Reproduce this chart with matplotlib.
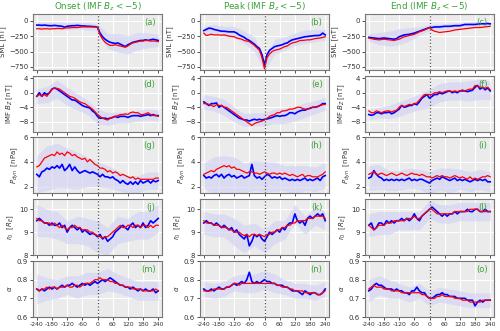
import matplotlib
matplotlib.use("Agg")
import matplotlib.pyplot as plt
import numpy as np

# time axis in minutes relative to the event (10 min step)
t = np.arange(-240, 241, 10)
t_band = t[::4]

col_titles = ["Onset (IMF $B_z<-5$)", "Peak (IMF $B_z<-5$)", "End (IMF $B_z<-5$)"]
row_labels = ["SML [nT]", "IMF $B_Z$ [nT]", "$P_{dyn}$  [nPa]", "$r_0$  [$R_E$]", r"$\alpha$"]
panel_tags = ["(a)", "(b)", "(c)", "(d)", "(e)", "(f)", "(g)", "(h)", "(i)",
              "(j)", "(k)", "(l)", "(m)", "(n)", "(o)"]
xticks = [-240, -180, -120, -60, 0, 60, 120, 180, 240]

# ---- SML
sml_onset_blue = [-70, -70, -75, -70, -75, -80, -80, -75, -80, -85, -90, -105, -90, -85, -80, -80, -75, -80,
                  -85, -85, -90, -90, -95, -95, -105, -200, -260, -300, -330, -350, -360, -370, -360, -380,
                  -400, -420, -390, -370, -350, -340, -330, -320, -320, -310, -320, -310, -300, -310, -320]
sml_onset_red = [-130, -130, -135, -130, -130, -135, -130, -130, -125, -125, -130, -120, -115, -115, -110,
                 -110, -110, -105, -100, -100, -100, -100, -100, -100, -110, -230, -300, -350, -380, -400,
                 -400, -390, -400, -410, -420, -430, -410, -380, -360, -350, -340, -330, -330, -320, -320,
                 -330, -330, -330, -340]
sml_peak_blue = [-160, -140, -120, -125, -140, -150, -160, -170, -170, -175, -180, -180, -180, -200, -230,
                 -250, -270, -300, -320, -350, -380, -420, -450, -550, -720, -550, -480, -450, -420, -410,
                 -400, -390, -370, -360, -330, -310, -300, -290, -280, -270, -260, -255, -250, -245, -240,
                 -240, -235, -200, -230]
sml_peak_red = [-200, -240, -230, -220, -230, -230, -230, -235, -230, -240, -250, -255, -260, -280, -290,
                -300, -320, -330, -340, -370, -400, -440, -480, -600, -780, -600, -540, -500, -480, -470,
                -460, -440, -420, -410, -380, -360, -350, -340, -320, -320, -315, -310, -310, -300, -290,
                -285, -280, -270, -260]
sml_end_blue = [-270, -275, -280, -285, -290, -285, -280, -285, -290, -295, -300, -290, -260, -245, -230,
                -225, -220, -210, -200, -185, -170, -155, -140, -125, -110, -110, -100, -100, -100, -95,
                -90, -90, -90, -85, -80, -80, -80, -70, -60, -60, -60, -60, -60, -55, -50, -50, -50, -45, -50]
sml_end_red = [-280, -290, -300, -305, -310, -305, -300, -305, -310, -315, -320, -310, -300, -280, -260,
               -250, -240, -230, -220, -200, -180, -165, -150, -130, -110, -150, -170, -180, -190, -185,
               -180, -175, -170, -160, -150, -145, -140, -135, -130, -125, -120, -115, -110, -110, -110,
               -105, -100, -95, -90]

# ---- IMF Bz
bz_onset_blue = [-1, 0, -1, 0, -0.5, 0, 1, 1.3, 1, 0.5, 0, -0.5, -1, -1.5, -2, -2, -2.5, -3, -3.5, -3.8,
                 -4, -4.2, -5, -5.5, -6.5, -7, -7, -7, -7.2, -7, -6.8, -6.5, -6.8, -6.5, -6.5, -6.5, -6.8,
                 -6.5, -6.3, -6.3, -6.3, -6.5, -6.3, -6.2, -6, -6.3, -6, -6.3, -6.3]
bz_onset_red = [-1, -0.5, -1, -0.5, -1, 0, 1, 1.3, 1.2, 1, 0.5, 0, -0.5, -1, -1.2, -1.5, -2, -2.5, -2.8,
                -3, -3.5, -4, -4.5, -5.2, -6, -6.5, -7, -7.3, -7.5, -7, -6.8, -6.5, -6.3, -6, -6, -5.8, -6,
                -5.5, -5.3, -5.5, -5.5, -6, -6, -5.8, -5.5, -6, -6.3, -6.2, -6.5]
bz_peak_blue = [-2.5, -3, -3.5, -3, -3, -2.8, -4, -3.5, -4, -4.5, -5, -5.5, -6, -6.5, -7, -7.2, -7.5, -7.5,
                -7.8, -7.5, -7.3, -7.5, -7.3, -7.5, -7.3, -7.2, -7, -6.8, -6.5, -6.3, -6.5, -6.3, -6.3, -6,
                -5.5, -5.5, -5.8, -5.3, -5, -4.8, -4.8, -4.5, -4.3, -4, -4, -3.8, -3.5, -3, -3]
bz_peak_red = [-3, -3, -3.2, -3.5, -3.8, -3.3, -3.5, -3.5, -4, -4, -4.5, -5, -5.5, -6, -6.5, -7, -7.5, -8,
               -8.5, -9, -8.5, -8.2, -8, -7.8, -7.5, -7, -6.5, -6.2, -6, -5.5, -5.5, -5, -5, -4.8, -4.5,
               -4.5, -4.3, -4, -4, -4.3, -4.5, -4.5, -4.2, -4, -4, -3.8, -3.5, -3.3, -3.2]
bz_end_blue = [-6, -6.2, -6, -5.5, -5.5, -5.8, -5.5, -5.5, -5.3, -5.8, -5.5, -5, -4.5, -3.5, -4, -3.8, -3.5,
               -3.5, -3, -3.3, -2.5, -1.5, -1, -0.5, -1.5, -1, -0.5, -0.5, 0, -0.3, 0, 0.3, 0.5, 0, 0.3,
               0, 0.5, 0.5, 0.5, 0.3, 0.5, 0.7, 1.5, 2, 1, 1.5, 0.8, 1.3, 0.5]
bz_end_red = [-5, -5.5, -5.5, -5, -5.2, -5.5, -5.2, -5, -5, -5.3, -5, -4.8, -4, -3.5, -3.8, -3.5, -3.2,
              -3.3, -3, -2.8, -2, -1.2, -0.5, -0.5, -0.5, -0.5, 0, 0, 0.3, 0, 0.3, 0.5, 0.5, 0.3, 0.5, 0.3,
              0.5, 0.8, 0.5, 0.8, 1, 1, 2, 1.8, 1.5, 1.5, 1.2, 1.5, 0.8]

# ---- Pdyn
pd_onset_blue = [3, 2.8, 3.2, 3.3, 3.5, 3.4, 3.6, 3.5, 3.7, 3.5, 3.8, 3.3, 3.5, 3.8, 3.3, 3.6, 3.3, 3.1,
                 3.2, 3.3, 3.2, 3.1, 3.2, 3.1, 3, 2.8, 3, 2.8, 2.8, 2.7, 2.8, 2.6, 2.5, 2.3, 2.5, 2.3, 2.2,
                 2.4, 2.2, 2.4, 2.2, 2.5, 2.3, 2.4, 2.5, 2.3, 2.5, 2.4, 2.5]
pd_onset_red = [3.6, 3.7, 4, 4.3, 4.4, 4.5, 4.6, 4.5, 4.8, 4.6, 4.7, 4.5, 4.8, 4.7, 4.5, 4.6, 4.4, 4.3, 4.2,
                4.3, 4, 4.2, 4, 3.8, 3.7, 3.5, 3.5, 3.4, 3.2, 3.3, 3.1, 3.2, 3.1, 2.9, 3, 2.9, 2.8, 2.7, 2.8,
                2.6, 2.7, 2.6, 2.6, 2.6, 2.6, 2.6, 2.6, 2.7, 2.7]
pd_peak_blue = [2.9, 2.7, 2.8, 2.7, 2.9, 3, 2.8, 3, 2.7, 2.9, 3, 2.8, 2.9, 2.7, 2.8, 2.9, 2.7, 2.8, 2.9,
                3.8, 2.9, 2.7, 2.8, 2.6, 2.8, 3, 2.9, 2.7, 2.8, 2.7, 2.8, 2.6, 2.7, 2.6, 2.5, 2.6, 2.5, 2.6,
                2.5, 2.6, 2.7, 2.5, 2.6, 2.5, 2.6, 2.7, 2.5, 2.8, 2.9]
pd_peak_red = [3, 3.1, 3.2, 3.3, 3.2, 3.4, 3.5, 3.6, 3.7, 3.6, 3.7, 3.5, 3.6, 3.4, 3.4, 3.3, 3.2, 3.1, 3.2,
               3.2, 3.1, 3.1, 3, 3.1, 3.2, 3.1, 3, 3.1, 3.1, 3, 3.1, 3, 3.1, 3, 2.9, 3, 2.9, 2.8, 2.9, 3,
               2.8, 2.9, 2.9, 2.8, 2.8, 2.8, 2.9, 3, 3.2]
pd_end_blue = [2.7, 2.8, 3.3, 3, 2.8, 2.7, 2.5, 2.6, 2.5, 2.6, 2.5, 2.6, 2.5, 2.6, 2.5, 2.6, 2.7, 2.5, 2.6,
               2.5, 2.6, 2.6, 2.5, 2.4, 2.3, 2.5, 2.6, 2.7, 2.6, 2.8, 2.7, 2.6, 2.5, 2.6, 2.7, 2.5, 2.6,
               2.5, 2.6, 2.5, 2.4, 2.5, 2.6, 2.5, 2.6, 2.5, 2.6, 2.4, 2.4]
pd_end_red = [3, 3.1, 3.2, 3, 3, 3.1, 3, 2.9, 3, 3.1, 3, 2.9, 3, 3.1, 3, 2.9, 3, 3.1, 3, 3, 2.9, 3, 2.9,
              2.8, 2.8, 2.7, 2.8, 2.9, 2.8, 2.9, 2.8, 2.8, 2.7, 2.8, 2.9, 2.8, 2.7, 2.8, 2.7, 2.6, 2.8,
              2.6, 2.7, 2.6, 2.7, 2.8, 2.8, 2.9, 2.8]

# ---- r0
r0_onset_blue = [9.5, 9.6, 9.5, 9.4, 9.4, 9.3, 9.4, 9.3, 9.3, 9.4, 9.2, 9.3, 9.0, 9.2, 9.3, 9.2, 9.1, 9.2,
                 9.0, 9.1, 9.0, 8.9, 8.95, 8.9, 8.8, 8.9, 8.7, 8.8, 8.6, 8.7, 8.8, 9.0, 9.1, 9.2, 9.3, 9.2,
                 9.1, 9.3, 9.4, 9.2, 9.3, 9.2, 9.4, 9.2, 9.3, 9.5, 9.4, 9.5, 9.6]
r0_onset_red = [9.6, 9.5, 9.5, 9.4, 9.4, 9.4, 9.3, 9.4, 9.3, 9.2, 9.3, 9.2, 9.1, 9.2, 9.2, 9.3, 9.2, 9.2,
                9.1, 9.1, 9.1, 9.0, 9.0, 8.9, 8.85, 8.8, 8.75, 8.8, 8.8, 8.9, 9.0, 9.1, 9.2, 9.3, 9.2, 9.2,
                9.3, 9.3, 9.2, 9.3, 9.3, 9.2, 9.3, 9.3, 9.2, 9.3, 9.2, 9.3, 9.3]
r0_peak_blue = [9.4, 9.5, 9.4, 9.4, 9.3, 9.4, 9.3, 9.2, 9.3, 9.2, 9.1, 9.2, 9.0, 9.1, 8.9, 8.8, 8.7, 8.9,
                8.4, 8.6, 8.9, 8.8, 8.9, 8.7, 8.6, 8.8, 9.0, 8.9, 9.0, 9.1, 9.0, 9.2, 9.1, 9.3, 9.4, 9.4,
                9.8, 9.5, 9.4, 9.5, 9.3, 9.6, 9.7, 9.6, 9.7, 9.8, 9.7, 9.8, 9.5]
r0_peak_red = [9.5, 9.4, 9.4, 9.4, 9.3, 9.3, 9.3, 9.2, 9.2, 9.2, 9.1, 9.1, 9.0, 9.0, 9.0, 8.9, 8.85, 8.9,
               8.8, 8.9, 8.9, 8.85, 8.9, 8.85, 8.8, 8.9, 8.9, 9.0, 9.0, 9.1, 9.1, 9.2, 9.2, 9.3, 9.3, 9.4,
               9.4, 9.5, 9.5, 9.5, 9.5, 9.6, 9.6, 9.6, 9.7, 9.7, 9.7, 9.7, 9.6]
r0_end_blue = [9.3, 9.4, 9.1, 9.2, 9.4, 9.4, 9.3, 9.5, 9.4, 9.5, 9.4, 9.5, 9.5, 9.6, 9.5, 9.6, 9.5, 9.6,
               9.8, 9.6, 9.5, 9.7, 9.8, 9.9, 10.0, 10.1, 10.0, 9.9, 9.8, 9.7, 9.8, 9.7, 9.8, 9.8, 9.9, 9.8,
               9.9, 9.9, 9.9, 10.0, 9.9, 9.9, 10.0, 10.0, 9.9, 9.9, 10.0, 9.9, 9.9]
r0_end_red = [9.3, 9.2, 9.1, 9.2, 9.3, 9.3, 9.3, 9.4, 9.4, 9.4, 9.5, 9.5, 9.5, 9.5, 9.5, 9.6, 9.6, 9.6,
              9.7, 9.6, 9.6, 9.7, 9.8, 9.9, 10.0, 10.0, 9.9, 9.8, 9.8, 9.8, 9.8, 9.8, 9.8, 9.8, 9.9, 9.9,
              9.9, 9.9, 9.9, 9.9, 10.0, 10.0, 10.0, 10.0, 9.9, 9.9, 9.9, 9.9, 9.9]

# ---- alpha
al_onset_blue = [0.75, 0.74, 0.75, 0.74, 0.75, 0.76, 0.75, 0.76, 0.75, 0.76, 0.77, 0.76, 0.77, 0.77, 0.78,
                 0.77, 0.76, 0.77, 0.78, 0.77, 0.78, 0.77, 0.78, 0.79, 0.78, 0.79, 0.80, 0.79, 0.80, 0.81,
                 0.80, 0.79, 0.78, 0.77, 0.77, 0.76, 0.76, 0.75, 0.76, 0.75, 0.74, 0.75, 0.74, 0.75, 0.74,
                 0.74, 0.75, 0.73, 0.74]
al_onset_red = [0.75, 0.74, 0.75, 0.75, 0.76, 0.75, 0.76, 0.76, 0.75, 0.76, 0.76, 0.76, 0.77, 0.76, 0.76,
                0.77, 0.77, 0.76, 0.77, 0.78, 0.78, 0.78, 0.79, 0.80, 0.80, 0.81, 0.80, 0.80, 0.80, 0.79,
                0.79, 0.78, 0.78, 0.77, 0.77, 0.76, 0.76, 0.76, 0.75, 0.75, 0.75, 0.75, 0.74, 0.74, 0.74,
                0.74, 0.74, 0.75, 0.74]
al_peak_blue = [0.75, 0.74, 0.74, 0.75, 0.74, 0.75, 0.76, 0.75, 0.75, 0.76, 0.76, 0.77, 0.78, 0.77, 0.78,
                0.79, 0.78, 0.80, 0.84, 0.79, 0.78, 0.79, 0.78, 0.79, 0.80, 0.79, 0.79, 0.78, 0.78, 0.77,
                0.77, 0.77, 0.76, 0.76, 0.75, 0.74, 0.74, 0.74, 0.73, 0.72, 0.74, 0.73, 0.72, 0.73, 0.73,
                0.72, 0.72, 0.73, 0.75]
al_peak_red = [0.74, 0.74, 0.74, 0.74, 0.75, 0.75, 0.75, 0.75, 0.75, 0.76, 0.76, 0.77, 0.78, 0.78, 0.77,
               0.78, 0.78, 0.78, 0.78, 0.78, 0.78, 0.78, 0.78, 0.78, 0.78, 0.78, 0.78, 0.78, 0.78, 0.77,
               0.77, 0.76, 0.76, 0.76, 0.75, 0.75, 0.74, 0.74, 0.74, 0.74, 0.73, 0.73, 0.73, 0.73, 0.73,
               0.72, 0.72, 0.73, 0.74]
al_end_blue = [0.74, 0.75, 0.77, 0.78, 0.77, 0.77, 0.76, 0.75, 0.75, 0.75, 0.74, 0.75, 0.74, 0.74, 0.73,
               0.73, 0.72, 0.74, 0.74, 0.76, 0.74, 0.73, 0.73, 0.71, 0.70, 0.70, 0.71, 0.72, 0.72, 0.73,
               0.72, 0.72, 0.71, 0.71, 0.71, 0.70, 0.70, 0.70, 0.70, 0.69, 0.69, 0.69, 0.66, 0.68, 0.69,
               0.68, 0.69, 0.69, 0.69]
al_end_red = [0.75, 0.76, 0.77, 0.76, 0.76, 0.76, 0.75, 0.75, 0.75, 0.74, 0.74, 0.74, 0.74, 0.73, 0.73,
              0.73, 0.73, 0.73, 0.73, 0.73, 0.73, 0.72, 0.72, 0.71, 0.70, 0.70, 0.70, 0.71, 0.71, 0.72,
              0.71, 0.71, 0.71, 0.71, 0.70, 0.70, 0.70, 0.69, 0.69, 0.69, 0.68, 0.68, 0.68, 0.68, 0.68,
              0.69, 0.69, 0.69, 0.69]

# half-width of the shaded spread band (every 40 min)
sml_spread = [[50, 50, 60, 60, 50, 60, 50, 120, 150, 150, 140, 120, 100],
              [70, 80, 80, 90, 100, 120, 100, 120, 110, 100, 110, 100, 90],
              [60, 100, 120, 130, 110, 70, 50, 50, 50, 50, 40, 40, 40]]
bz_spread = [[2.0, 2.2, 2.5, 2.5, 2.2, 2.0, 2.0, 1.8, 1.5, 1.5, 1.5, 1.5, 1.5],
             [2.0, 2.0, 2.2, 2.0, 1.8, 1.8, 1.8, 2.0, 2.2, 2.0, 2.0, 1.8, 1.8],
             [1.5, 1.5, 1.8, 2.0, 2.0, 2.2, 2.5, 2.5, 2.5, 2.5, 2.8, 2.8, 2.5]]
pd_spread = [[1.5, 1.8, 1.8, 1.6, 1.5, 1.2, 1.0, 0.9, 0.8, 0.7, 0.7, 0.7, 0.7],
             [1.0, 1.5, 1.8, 1.5, 1.2, 1.2, 1.2, 1.2, 1.0, 1.2, 1.0, 1.0, 1.0],
             [1.0, 1.0, 0.8, 0.8, 0.8, 0.8, 0.9, 0.9, 1.0, 0.8, 0.8, 0.8, 0.8]]
r0_spread = [[0.7, 0.6, 0.6, 0.5, 0.6, 0.6, 0.7, 0.6, 0.6, 0.5, 0.6, 0.6, 0.6],
             [0.5, 0.5, 0.5, 0.6, 0.6, 0.5, 0.5, 0.5, 0.4, 0.4, 0.4, 0.4, 0.4],
             [0.5, 0.5, 0.5, 0.4, 0.4, 0.4, 0.4, 0.4, 0.4, 0.4, 0.4, 0.4, 0.4]]
al_spread = [[0.08, 0.06, 0.05, 0.05, 0.06, 0.06, 0.06, 0.06, 0.05, 0.05, 0.05, 0.05, 0.05],
             [0.04, 0.04, 0.04, 0.04, 0.05, 0.05, 0.05, 0.05, 0.04, 0.04, 0.04, 0.04, 0.04],
             [0.06, 0.05, 0.05, 0.04, 0.04, 0.04, 0.04, 0.04, 0.04, 0.04, 0.04, 0.04, 0.04]]

rows = [
    ([sml_onset_blue, sml_peak_blue, sml_end_blue], [sml_onset_red, sml_peak_red, sml_end_red], sml_spread),
    ([bz_onset_blue, bz_peak_blue, bz_end_blue], [bz_onset_red, bz_peak_red, bz_end_red], bz_spread),
    ([pd_onset_blue, pd_peak_blue, pd_end_blue], [pd_onset_red, pd_peak_red, pd_end_red], pd_spread),
    ([r0_onset_blue, r0_peak_blue, r0_end_blue], [r0_onset_red, r0_peak_red, r0_end_red], r0_spread),
    ([al_onset_blue, al_peak_blue, al_end_blue], [al_onset_red, al_peak_red, al_end_red], al_spread),
]
ylims = [(-800, 110), (-10.8, 4.6), (1.5, 6), (8, 10.45), (0.6, 0.9)]
yticks = [[0, -250, -500, -750], [4, 0, -4, -8], [2, 4, 6], [8, 9, 10], [0.6, 0.7, 0.8, 0.9]]

green = "#3aa03a"
fig = plt.figure(figsize=(5, 3.31), dpi=100)
W, H = 500.0, 331.0
col_left = [33, 200, 365]
col_w = 129
row_top = [14, 76, 137, 199, 261]
row_h = 56

for r in range(5):
    blues, reds, spreads = rows[r]
    for c in range(3):
        ax = fig.add_axes([col_left[c] / W, 1 - (row_top[r] + row_h) / H, col_w / W, row_h / H])
        ax.set_facecolor("#ebebeb")
        ax.grid(True, color="white", lw=0.8)
        ax.set_axisbelow(True)
        for s in ax.spines.values():
            s.set_color("#777777")
            s.set_linewidth(0.8)
        b = np.array(blues[c])
        hw = np.array(spreads[c])
        ax.fill_between(t_band, b[::4] - hw, b[::4] + hw, color="#d4d4f4", alpha=0.7, lw=0)
        ax.plot(t, b, color="blue", lw=1.2)
        ax.plot(t, reds[c], color="red", lw=0.9)
        ax.axvline(0, color="#555555", ls=":", lw=0.9)
        ax.set_xlim(-255, 255)
        ax.set_ylim(*ylims[r])
        ax.set_yticks(yticks[r])
        ax.set_xticks(xticks)
        ax.tick_params(axis="y", labelsize=5, length=2, width=0.6, colors="#333333", pad=1.5)
        ax.tick_params(axis="x", labelsize=4.4, length=2, width=0.6, colors="#333333", pad=1.5)
        if r < 4:
            ax.set_xticklabels([])
        else:
            ax.set_xticklabels([str(v) for v in xticks])
        ax.set_ylabel(row_labels[r], fontsize=5, labelpad=2, color="#333333")
        ax.text(0.95, 0.85, panel_tags[r * 3 + c], transform=ax.transAxes, ha="right", va="center",
                fontsize=6, color=green)
        if r == 0:
            ax.set_title(col_titles[c], fontsize=6.3, color=green, pad=3)

fig.savefig("out.png", dpi=100)
